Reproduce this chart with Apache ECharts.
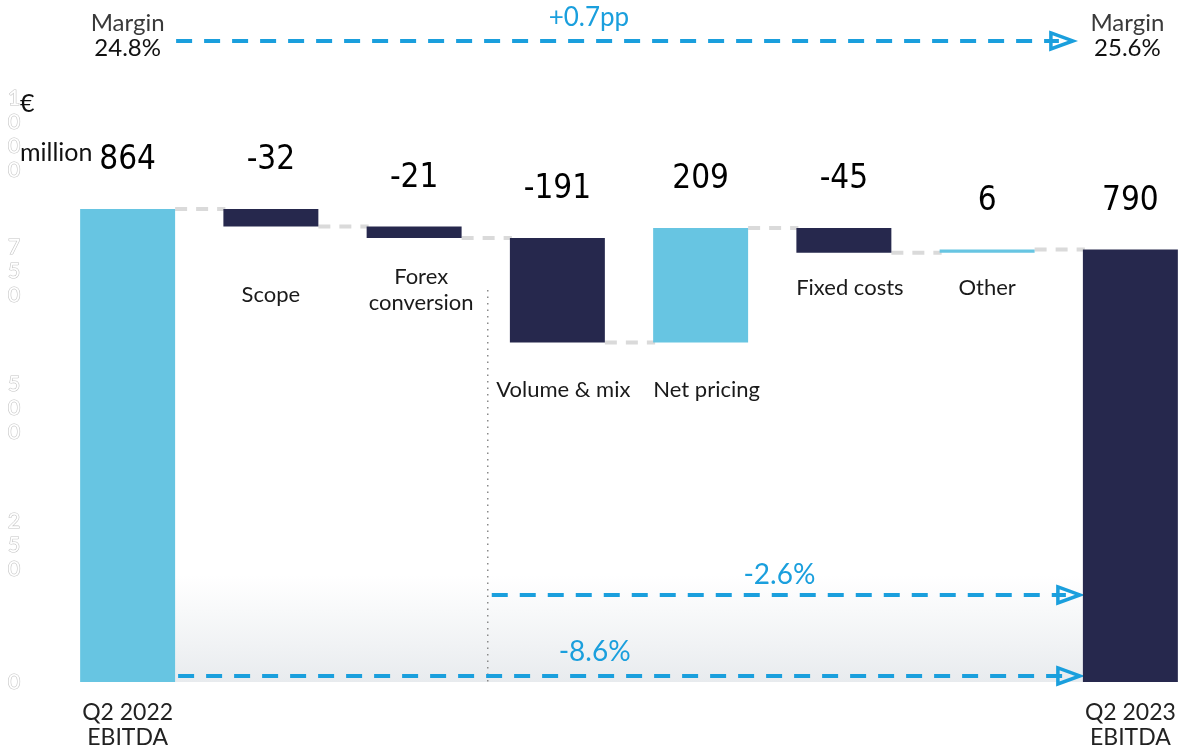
<!DOCTYPE html>
<html>
<head>
<meta charset="utf-8">
<script src="https://cdn.jsdelivr.net/npm/echarts@6/dist/echarts.min.js"></script>
<style>
  html, body { margin: 0; padding: 0; background: #ffffff; }
  #chart { width: 1178px; height: 751px; }
</style>
</head>
<body>
<div id="chart"></div>
<script>
// ---------------- data ----------------
const categories = ['Q2 2022\nEBITDA', 'Scope', 'Forex\nconversion', 'Volume & mix', 'Net pricing', 'Fixed costs', 'Other', 'Q2 2023\nEBITDA'];
const startTotal = 864;
const deltas = [-32, -21, -191, 209, -45, 6];
const endTotal = 790;
const yMin = 0, yMax = 1000, yInterval = 250;
const unitLabel = ['€', 'million'];
const marginStart = '24.8%';
const marginEnd = '25.6%';
const marginChange = '+0.7pp';
const partialChange = '-2.6%';
const totalChange = '-8.6%';

// ---------------- styles ----------------
const LIGHT = '#67C5E2';
const NAVY = '#26284D';
const BLUE = '#1A9FDD';
const BAR_FRAC = 0.663;
const TXT_FONT = 'Lato, "Open Sans", sans-serif';
const VAL_FONT = '"DejaVu Sans Condensed", "DejaVu Sans", sans-serif';

// ---------------- derived waterfall ----------------
const levels = [startTotal];
deltas.forEach(d => levels.push(levels[levels.length - 1] + d));
const baseVals = [0];
const sizeVals = [startTotal];
deltas.forEach((d, i) => {
  const prev = levels[i];
  baseVals.push(Math.min(prev, prev + d));
  sizeVals.push(Math.abs(d));
});
baseVals.push(0);
sizeVals.push(endTotal);
const shownVals = [startTotal].concat(deltas).concat([endTotal]);
const barColors = shownVals.map((v, i) => i === 0 ? LIGHT : (i === shownVals.length - 1 ? NAVY : (v >= 0 ? LIGHT : NAVY)));
const nameDistances = [0, 55, 26, 34, 34, 22, 22, 0];
const nameShift = [0, 0, 7, 6, 6, 6, 0, 0];

const chart = echarts.init(document.getElementById('chart'));

function connectorRender(params, api) {
  const i = api.value(0);
  const band = api.size([1, 0])[0];
  const half = band * BAR_FRAC / 2;
  const p1 = api.coord([i, api.value(1)]);
  const p2 = api.coord([i + 1, api.value(1)]);
  return {
    type: 'line',
    shape: { x1: p1[0] + half, y1: p1[1], x2: p2[0] - half + 2, y2: p2[1] },
    style: { stroke: '#dadada', lineWidth: 4, lineDash: [12, 9] }
  };
}

function arrow(x1, tip, yy) {
  return [
    { type: 'line', shape: { x1: x1, y1: yy, x2: tip - 14, y2: yy },
      style: { stroke: BLUE, lineWidth: 4, lineDash: [16, 12] } },
    { type: 'polygon', shape: { points: [[tip - 22, yy - 8], [tip, yy], [tip - 22, yy + 8]] },
      style: { stroke: BLUE, lineWidth: 3.5, fill: 'rgba(0,0,0,0)', lineDash: null } }
  ];
}
function txt(text, x, y, size, color, font) {
  return { type: 'text', style: { text: text, x: x, y: y, fill: color,
    font: size + 'px ' + (font || TXT_FONT), align: 'center', verticalAlign: 'middle',
    textAlign: 'center', textVerticalAlign: 'middle' } };
}

function annotRender(params, api) {
  const band = api.size([1, 0])[0];
  const half = band * BAR_FRAC / 2;
  const cx = i => api.coord([Math.floor(i), 0])[0] + (i - Math.floor(i)) * band;
  const cy = v => api.coord([0, v])[1];
  const xR0 = cx(0) + half;
  const xL7 = cx(7) - half;
  const y0 = cy(0);
  const yTopGrad = cy(195);
  const xDiv = (cx(2) + cx(3)) / 2 + 2;
  let children = [];
  children.push({
    type: 'rect',
    shape: { x: xR0, y: yTopGrad, width: xL7 - xR0, height: y0 - yTopGrad },
    style: { fill: new echarts.graphic.LinearGradient(0, 0, 0, 1, [
      { offset: 0, color: 'rgba(234,237,240,0)' },
      { offset: 1, color: '#e8ebee' }
    ]) }
  });
  children.push({
    type: 'line',
    shape: { x1: xDiv, y1: cy(716), x2: xDiv, y2: y0 },
    style: { stroke: '#8a8a8a', lineWidth: 1.5, lineDash: [1.5, 5] }
  });
  const yTop = cy(1171);
  const yMid = cy(159);
  const yBot = cy(11);
  children = children.concat(arrow(xR0 + 1, xL7 - 10, yTop));
  children = children.concat(arrow(xDiv + 4, xL7 - 3, yMid));
  children = children.concat(arrow(xR0 + 3, xL7 - 3, yBot));
  children.push(txt(marginChange, cx(3.22), yTop - 23, 26, BLUE));
  children.push(txt(partialChange, cx(4.55), yMid - 20, 28, BLUE));
  children.push(txt(totalChange, cx(3.26), yBot - 24, 28, BLUE));
  children.push(txt('Margin', cx(0), yTop - 18, 24, '#3a3a3a'));
  children.push(txt(marginStart, cx(0), yTop + 7, 24, '#111'));
  children.push(txt('Margin', cx(7) - 3, yTop - 18, 24, '#3a3a3a'));
  children.push(txt(marginEnd, cx(7) - 3, yTop + 7, 24, '#111'));
  return { type: 'group', children: children };
}

const option = {
  backgroundColor: '#ffffff',
  animation: false,
  grid: { left: 56, width: 1146, top: 134.5, bottom: 69, containLabel: false, outerBoundsMode: 'none' },
  xAxis: {
    type: 'category',
    data: categories,
    axisLine: { show: false },
    axisTick: { show: false },
    axisLabel: {
      interval: 0,
      margin: 18,
      color: '#222',
      fontFamily: TXT_FONT,
      fontSize: 23,
      lineHeight: 25,
      formatter: (v, i) => (i === 0 || i === categories.length - 1) ? v : ''
    },
    splitLine: { show: false }
  },
  yAxis: {
    type: 'value',
    min: yMin, max: yMax, interval: yInterval,
    axisLine: { show: false },
    axisTick: { show: false },
    splitLine: { show: false },
    axisLabel: {
      margin: 42,
      align: 'center',
      color: '#ffffff',
      textBorderColor: '#c4c4c4',
      textBorderWidth: 1.2,
      fontFamily: TXT_FONT,
      fontSize: 21,
      lineHeight: 24,
      formatter: v => String(v).split('').join('\n')
    }
  },
  graphic: [
    { type: 'text', left: 20, top: 91, style: { text: unitLabel[0], font: '25px ' + TXT_FONT, fill: '#111' } },
    { type: 'text', left: 20, top: 140, style: { text: unitLabel[1], font: '25px ' + TXT_FONT, fill: '#111' } }
  ],
  series: [
    {
      type: 'custom',
      z: 1,
      clip: false,
      renderItem: annotRender,
      data: [[0, 0]],
      silent: true
    },
    {
      type: 'custom',
      z: 1,
      renderItem: connectorRender,
      data: levels.map((l, i) => [i, l]),
      silent: true
    },
    {
      type: 'bar',
      stack: 'w',
      z: 2,
      barWidth: (BAR_FRAC * 100) + '%',
      itemStyle: { color: 'rgba(0,0,0,0)' },
      data: baseVals.map((v, i) => ({
        value: v,
        label: {
          show: i > 0 && i < categories.length - 1,
          position: 'insideTop',
          distance: nameDistances[i],
          offset: [nameShift[i], 0],
          formatter: categories[i],
          color: '#1a1a1a',
          fontFamily: TXT_FONT,
          fontSize: 22,
          lineHeight: 26
        }
      })),
      silent: true
    },
    {
      type: 'bar',
      stack: 'w',
      z: 3,
      barWidth: (BAR_FRAC * 100) + '%',
      data: sizeVals.map((v, i) => ({ value: v, itemStyle: { color: barColors[i] } })),
      label: {
        show: true,
        position: 'top',
        distance: 32,
        formatter: p => String(shownVals[p.dataIndex]),
        color: '#000',
        fontFamily: VAL_FONT,
        fontSize: 33,
        textBorderColor: '#ffffff',
        textBorderWidth: 3
      }
    }
  ]
};
chart.setOption(option);
</script>
</body>
</html>
